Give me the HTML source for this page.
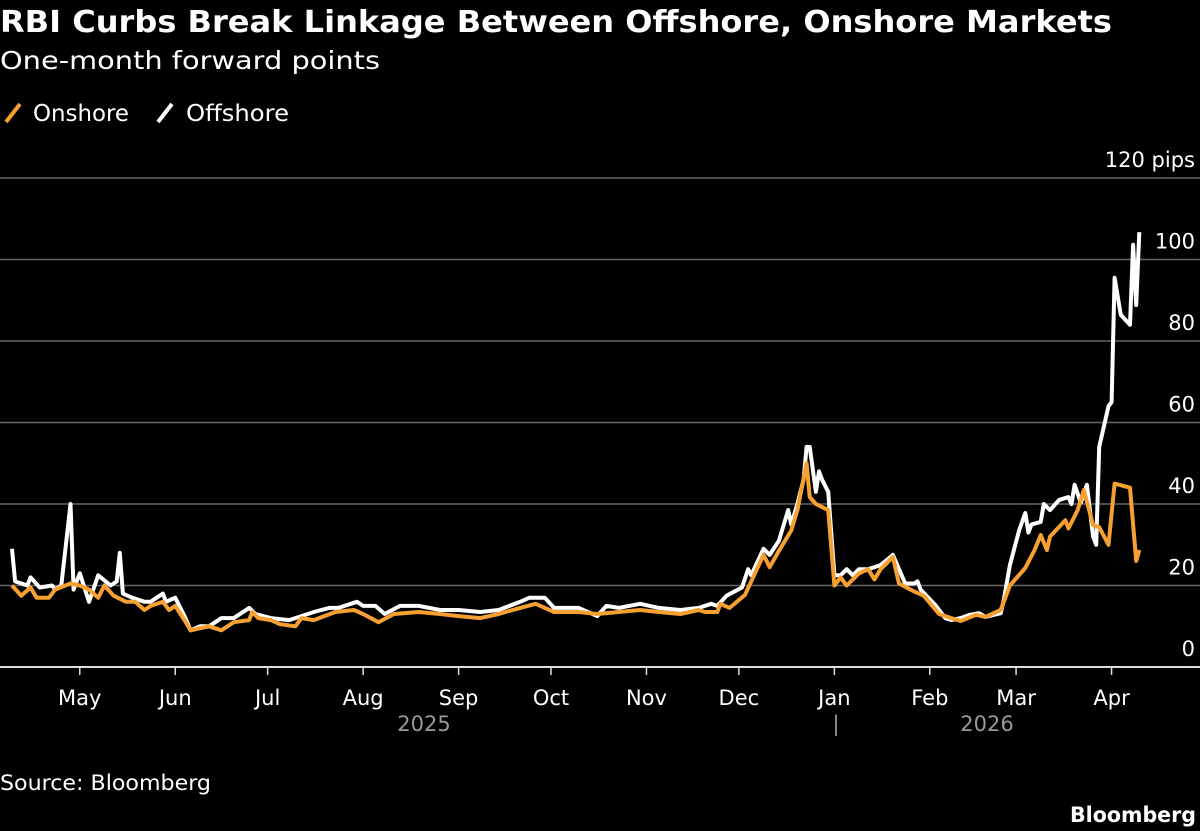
<!DOCTYPE html>
<html><head><meta charset="utf-8"><style>
body{margin:0;background:#000;width:1200px;height:831px;overflow:hidden;font-family:"DejaVu Sans","Liberation Sans",sans-serif;color:#fff}
svg{position:absolute;left:0;top:0;font-family:"DejaVu Sans","Liberation Sans",sans-serif}
</style></head><body>
<svg width="1200" height="831">
<text x="0" y="32" font-size="30" font-weight="bold" fill="#fff" textLength="1112" lengthAdjust="spacingAndGlyphs">RBI Curbs Break Linkage Between Offshore, Onshore Markets</text>
<text x="0" y="69" font-size="25" fill="#fff" textLength="380" lengthAdjust="spacingAndGlyphs">One-month forward points</text>
<g>
<line x1="6" y1="122" x2="20" y2="104" stroke="#f5a030" stroke-width="4"/>
<text x="33" y="121" font-size="23" fill="#fff" textLength="96" lengthAdjust="spacingAndGlyphs">Onshore</text>
<line x1="158" y1="122" x2="172" y2="104" stroke="#fff" stroke-width="4"/>
<text x="186" y="121" font-size="23" fill="#fff" textLength="103" lengthAdjust="spacingAndGlyphs">Offshore</text>
</g>
<g id="grid"></g><g id="xaxis"></g><g id="lines"></g>
<text x="424" y="731" font-size="21" fill="#999" text-anchor="middle">2025</text>
<text x="836" y="731" font-size="21" fill="#999" text-anchor="middle">|</text>
<text x="987" y="731" font-size="21" fill="#999" text-anchor="middle">2026</text>
<text x="0" y="790" font-size="21" fill="#fff" textLength="211" lengthAdjust="spacingAndGlyphs">Source: Bloomberg</text>
<text x="1196" y="822" font-size="21" font-weight="bold" fill="#fff" text-anchor="end" textLength="126" lengthAdjust="spacingAndGlyphs">Bloomberg</text>
</svg>
<script>
const yTicks=[0,20,40,60,80,100,120];
const yTickLabels=["0","20","40","60","80","100","120 pips"];
const monthLabels=["May","Jun","Jul","Aug","Sep","Oct","Nov","Dec","Jan","Feb","Mar","Apr"];
const monthDays=[22,53,83,114,145,175,206,236,267,298,326,357];
const offDays=[0,1,5,6,9,13,14,16,19,20,22,25,28,32,34,35,36,39,43,45,49,50,53,56,58,61,64,68,72,77,79,84,90,94,98,103,106,110,112,114,118,121,126,132,139,145,152,158,165,168,173,176,184,190,193,197,204,210,217,223,227,229,232,237,239,240,244,246,249,252,253,255,257,258,259,261,262,263,265,267,269,271,273,275,278,282,286,288,290,293,294,295,300,303,305,308,311,314,316,321,322,324,327,329,330,331,334,335,337,340,343,344,345,347,349,351,352,353,356,357,358,360,363,364,365,366];
const offVals=[29,21,20,22,19.5,20,19,20,40,19,23,16,22.5,20,21,28,18,17,16,16,18,16,17,12.5,9,10,10,12,12,14.5,13,12,11.5,12.5,13.5,14.5,14.5,15.5,16,15,15,13,15,15,14,14,13.5,14,16,17,17,14.5,14.5,12.5,15,14.5,15.5,14.5,14,14.5,15.5,15,17.5,19.5,24,22.5,29,27.5,31,38.5,35,40,46,54,54,43,48,46,43,22.5,22.5,24,22.5,24,24,25,27.5,24,20.5,20.5,21,19,15,12,11.5,12,12.8,13.2,12.3,13.2,16.5,25,33.6,37.8,33,35,35.6,40,38.5,41,41.7,40,44.7,40.3,44.7,32,30,54,64,65,95.5,86.4,84,103.6,88.8,106.7];
const onDays=[0,3,6,8,12,14,19,22,25,28,30,33,37,40,43,45,49,51,53,56,58,61,64,68,72,77,78,80,84,87,92,94,98,105,111,114,119,124,132,139,145,152,158,165,170,176,184,190,197,204,210,217,223,225,229,230,233,238,240,244,246,249,251,253,255,258,259,261,265,267,269,271,275,278,280,282,286,288,293,296,301,305,308,313,316,321,324,329,332,334,336,337,339,342,343,346,348,351,353,356,358,363,365,366];
const onVals=[20,17.5,19.5,17,17,19,20.5,20,19,17,20,17.5,16,16,14,15,16,14,15,11.5,9,9.5,10,9,11,11.5,13.5,12,11.5,10.5,10,12,11.5,13.5,14,13,11,13,13.5,13,12.5,12,13,14.5,15.5,13.5,13.5,13,13.5,14,13.5,13,14,13.5,13.5,15.5,14.5,17.7,21,27.5,24.5,28.5,31,33.5,38.5,50,41.7,40,38.5,20,22,20,23,24,21.5,24,27,20.5,18.5,17.5,13,12,11.3,12.8,12.3,14,20,24.3,28.7,32.4,28.7,32,33.6,36,34,38.5,43.4,34.8,34.3,30,45,44,26,28.7];
const NS='http://www.w3.org/2000/svg';
const xS=d=>12+d*3.08;
const yS=v=>667-v*4.075;
function mk(tag,attrs,parent){const e=document.createElementNS(NS,tag);for(const k in attrs)e.setAttribute(k,attrs[k]);parent.appendChild(e);return e;}
const grid=document.getElementById('grid');
yTicks.forEach((t,i)=>{
  const l=mk('line',{x1:0,x2:1200,y1:yS(t),y2:yS(t),stroke:t===0?'#ddd':'#666','stroke-width':t===0?2:1.5},grid);
  
  
  const tx=mk('text',{x:1195,y:yS(t)-11,'font-size':21,fill:'#fff','text-anchor':'end'},grid);
  tx.textContent=yTickLabels[i];
  
  
});
const xa=document.getElementById('xaxis');
monthLabels.forEach((m,i)=>{
  const x=xS(monthDays[i]);
  const tk=mk('line',{x1:x,x2:x,y1:667,y2:675,stroke:'#ddd','stroke-width':1.5},xa);
  
  
  const tx=mk('text',{x:x,y:705,'font-size':21,fill:'#fff','text-anchor':'middle'},xa);
  tx.textContent=m;
  
  
});
const lg=document.getElementById('lines');
function path(days,vals){return days.map((d,i)=>(i?'L':'M')+xS(d).toFixed(1)+','+yS(vals[i]).toFixed(1)).join(' ');}
const pOff=mk('path',{d:path(offDays,offVals),fill:'none',stroke:'#fff','stroke-width':4,'stroke-linejoin':'round'},lg);


const pOn=mk('path',{d:path(onDays,onVals),fill:'none',stroke:'#f5a030','stroke-width':4,'stroke-linejoin':'round'},lg);


</script>
</body></html>
